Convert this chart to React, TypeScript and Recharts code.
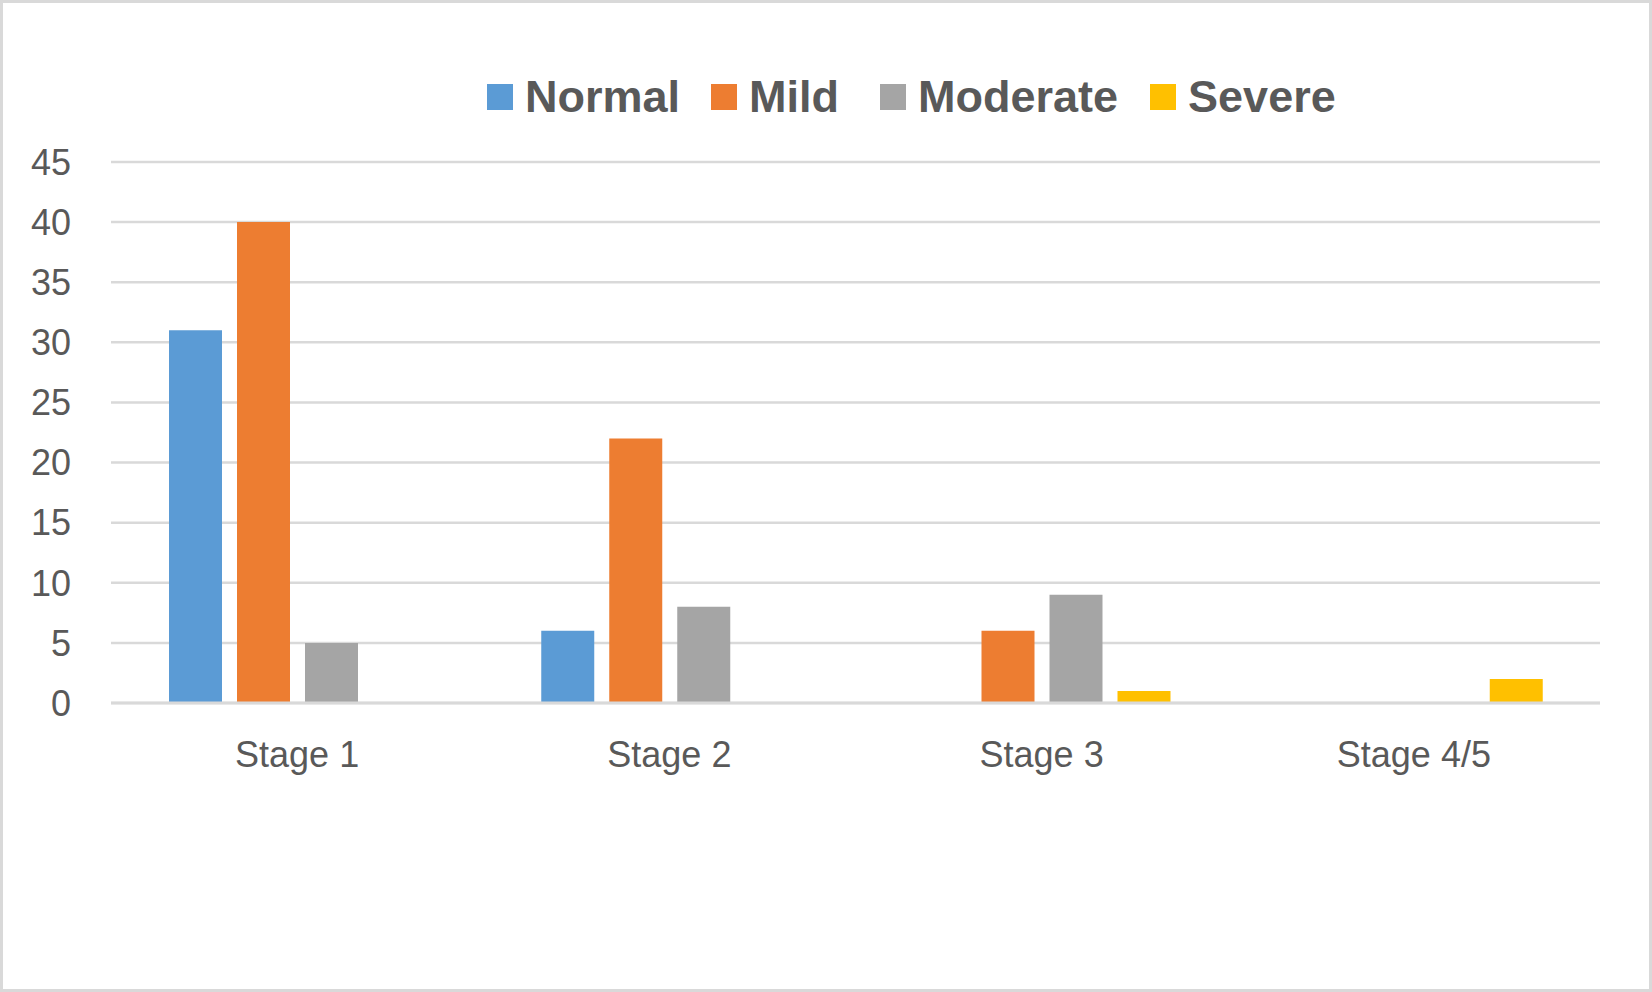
import React from 'react';
import { BarChart, Bar, XAxis, YAxis, CartesianGrid } from 'recharts';

const stages = ['Stage 1', 'Stage 2', 'Stage 3', 'Stage 4/5'];
const normal = [31, 6, 0, 0];
const mild = [40, 22, 6, 0];
const moderate = [5, 8, 9, 0];
const severe = [0, 0, 1, 2];
const yTicks = [0, 5, 10, 15, 20, 25, 30, 35, 40, 45];

const seriesList = [
  { key: 'Normal', color: '#5B9BD5' },
  { key: 'Mild', color: '#ED7D31' },
  { key: 'Moderate', color: '#A5A5A5' },
  { key: 'Severe', color: '#FFC000' },
];

const data = stages.map((stage, i) => ({
  stage,
  Normal: normal[i],
  Mild: mild[i],
  Moderate: moderate[i],
  Severe: severe[i],
}));

const FONT = '"Liberation Sans", Arial, sans-serif';
const TEXT = '#595959';
const legendGaps = [31, 41, 32, 0];

const LegendBox = () => (
  <div style={{ position: 'absolute', left: 487, top: 74, display: 'flex', alignItems: 'center', fontFamily: FONT }}>
    {seriesList.map((s, i) => (
      <div key={s.key} style={{ display: 'flex', alignItems: 'center', marginRight: legendGaps[i] }}>
        <span style={{ width: 26, height: 26, background: s.color, display: 'inline-block', marginRight: 12 }} />
        <span style={{ fontSize: 45, fontWeight: 'bold', color: TEXT, lineHeight: '46px' }}>{s.key}</span>
      </div>
    ))}
  </div>
);

export default function App() {
  return (
    <div
      style={{
        position: 'absolute',
        left: 0,
        top: 0,
        width: 1652,
        height: 992,
        border: '3px solid #D9D9D9',
        boxSizing: 'border-box',
        background: '#fff',
      }}
    >
      <div style={{ position: 'absolute', left: -3, top: -3 }}>
        <BarChart
          width={1652}
          height={992}
          data={data}
          margin={{ top: 162, right: 52, left: 51, bottom: 229 }}
          barGap={15}
          barSize={53}
        >
          <CartesianGrid vertical={false} stroke="#D9D9D9" strokeWidth={2.5} />
          <XAxis
            dataKey="stage"
            height={60}
            axisLine={{ stroke: '#D9D9D9', strokeWidth: 3 }}
            tickLine={false}
            tickSize={0}
            tickMargin={38}
            tick={{ fill: TEXT, fontSize: 36, fontFamily: FONT }}
          />
          <YAxis
            width={60}
            domain={[0, 45]}
            ticks={yTicks}
            interval={0}
            axisLine={false}
            tickLine={false}
            tickSize={0}
            tickMargin={40}
            tick={{ fill: TEXT, fontSize: 36, fontFamily: FONT }}
          />
          {seriesList.map((s) => (
            <Bar key={s.key} dataKey={s.key} fill={s.color} isAnimationActive={false} />
          ))}
        </BarChart>
        <LegendBox />
      </div>
    </div>
  );
}
